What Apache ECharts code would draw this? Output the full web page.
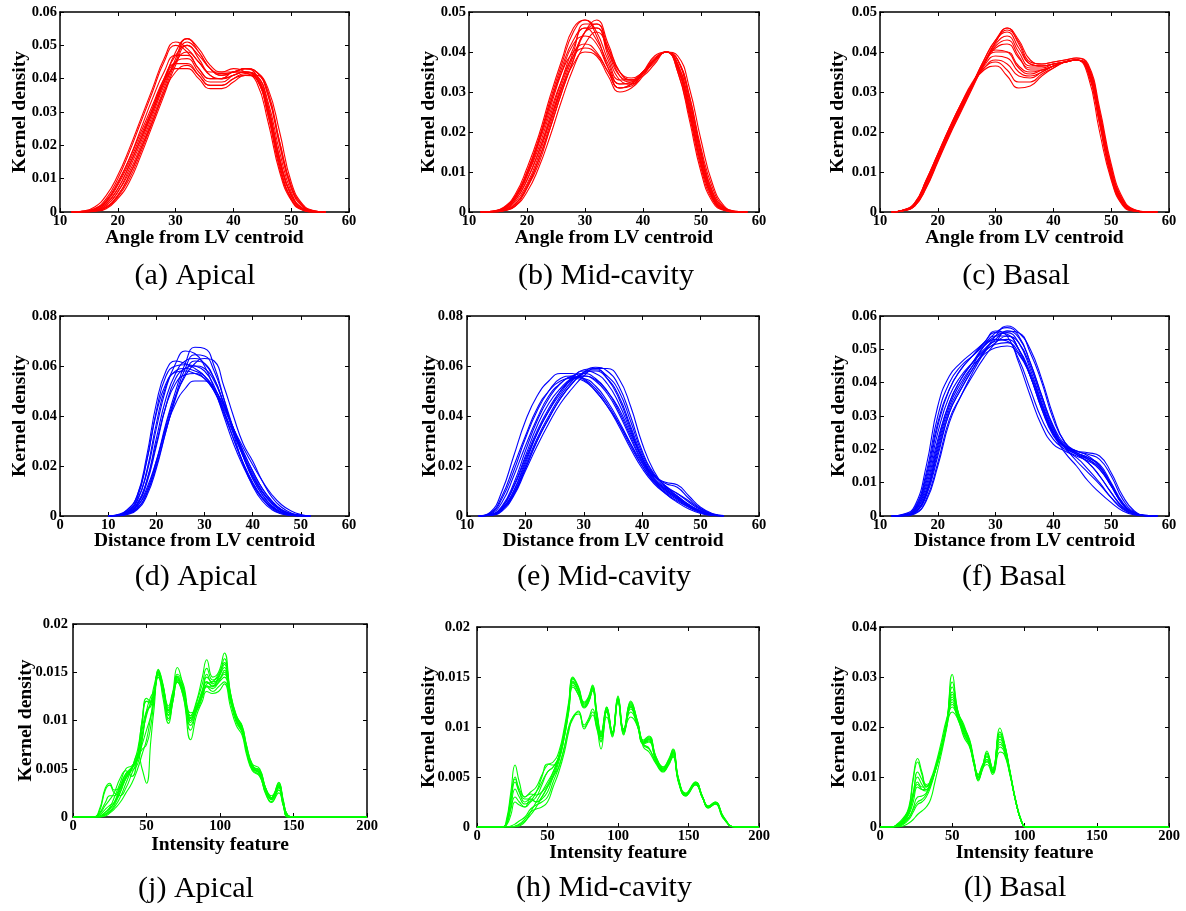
<!DOCTYPE html>
<html>
<head>
<meta charset="utf-8">
<script src="https://cdn.jsdelivr.net/npm/echarts@6/dist/echarts.min.js"></script>
<style>
  html, body { margin: 0; padding: 0; background: #ffffff; }
  #main { width: 1186px; height: 911px; }
</style>
</head>
<body>
<div id="main"></div>
<script>
// Kernel density curves per cardiac slice level. Each panel has one x grid
// (feature value) and a list of curves sampled on it; densities are in units of 1e-3.

// ---- Angle from LV centroid ----
const angleApicalX = [12,14,16,18,20,22,24,26,28,30,32,34,36,38,40,42,44,46,48,50,52,54,56];
const angleApicalY = [
  [0,0.3,1.5,5,11,19,28,37,46,51,49,45,42,42,43,42,39,27,12,3.5,0.5,0,0],
  [0,0.2,1,4,10,18,27,36,45,50,48,43,40,40,42,42,40,29,13,4,0.7,0,0],
  [0,0.1,0.8,3,8,15,23,31,39,43,43,40,37,37,39,41,40,31,16,5,1,0.1,0],
  [0,0.1,0.7,2.5,7,14,22,30,39,45,46,42,39,39,41,42,40,30,15,5,1,0,0],
  [0,0,0.5,2,6,13,21,30,39,48,52,48,43,41,42,43,41,31,16,5,1,0,0],
  [0,0,0.3,1.5,5,11,19,28,37,46,52,49,44,42,42,43,42,35,20,7,1.5,0.2,0],
  [0,0,0.4,2,6,12,20,29,38,45,48,45,41,40,41,42,41,33,18,6,1,0.1,0],
  [0,0,0.2,1,4,9,17,26,35,44,50,47,43,41,42,43,42,37,24,9,2.3,0.4,0],
  [0,0,0.3,1.5,5,11,19,27,36,42,44,41,38,38,40,41,41,35,21,8,2,0.3,0],
  [0,0.2,1,3.5,9,16,25,34,42,47,47,43,40,40,42,42,40.5,30,14,4,0.7,0,0],
  [0,0.1,0.6,2.5,7,14,22,31,40,47,50,46,41,40,41,42,41,32,16,5,1,0.1,0],
  [0,0.2,0.9,3.2,8.5,16,24,32,40,44.5,44.5,41,38,38,40,41.5,40,29,14,4,0.7,0,0],
  [0,0,0.3,1.3,4.5,10,18,27,36,45,51,48,43,41.5,42,43,42,36,21,7.5,1.8,0.3,0]
];

const angleMidX = [12,14,16,18,20,22,24,26,28,30,32,34,36,38,40,42,44,46,48,50,52,54,56,58];
const angleMidY = [
  [0,0.2,1,4,10,18,28,37,45,48,44,36,31,32,35,39,40,35,24,11,3,0.5,0,0],
  [0,0,0.3,1.5,6,13,21,30,38,45,48,42,35,33,35,38,40,37,27,14,4,0.8,0.1,0],
  [0,0.1,0.7,3,8,15,23,31,37,40,39,34,30,31,34,38,40,36,25,12,3.5,0.6,0,0],
  [0,0.1,0.8,3.5,9,17,26,35,42,44,42,36,32,32,35,38,40,36,25,12,3.5,0.5,0,0],
  [0,0,0.5,2.5,7,14,23,32,40,47,47,40,34,33,35,38,40,38,29,15,5,1,0.1,0],
  [0,0,0.4,2,6,12,21,30,38,45,46,40,35,33.5,35,38,40,39,31,18,7,1.5,0.2,0],
  [0,0.2,1,4,10,18,27,35,40,42,40,35,31,32,35,38,40,36,26,13,4,0.6,0,0],
  [0,0.2,1.2,4.5,11,19,29,38,46,48,45,38,33,33,35,38,40,35,23,10,2.5,0.4,0,0],
  [0,0,0.3,1.5,5,11,19,28,36,42,45,41,35,33,34,37,40,38,29,16,6,1.2,0.2,0],
  [0,0.1,0.6,3,8,15,24,33,41,46,46,39,33,32,35,38,40,37,27,14,4.5,0.8,0.1,0],
  [0,0.1,0.9,3.8,9.5,17.5,27,36,43,46,43,37,32,32.5,35,38.5,40,36,25,12,3.3,0.5,0,0],
  [0,0,0.4,2,6.5,13,22,31,39,45,47,41,34,32.5,34.5,37.5,40,38,28,15,5,1,0.1,0],
  [0,0.15,0.9,3.5,9,16,25,33,39,41,39.5,35,31,31.5,34.5,38,40,36.5,26,12.5,3.8,0.6,0,0]
];

const angleBasalX = [12,14,16,18,20,22,24,26,28,30,32,34,36,38,40,42,44,46,48,50,52,54,56,58];
const angleBasalY = [
  [0,0.4,2,7.5,14,20,26,32,38,43,46,42,37,36.5,37,37.5,38,35,22,9,2,0.3,0,0],
  [0,0.5,2.3,8,14.5,21,27,32,35.5,36.5,34,31,31.5,34,36,37.5,38,35,23,10,2.5,0.4,0,0],
  [0,0.4,2,7.5,14,20.5,26.5,32,36,38,37,34,33.5,35,36.5,37.5,38,35.5,23,9.5,2.2,0.3,0,0],
  [0,0.35,1.8,7,13.5,20,26,32,37,40,40,36.5,35,35.5,36.5,37.5,38,36,24,10,2.5,0.4,0,0],
  [0,0.35,1.8,7,13.5,20,26,32,37.5,41,42,38.5,36,36,37,37.5,38,35,22,8.5,1.8,0.2,0,0],
  [0,0.3,1.6,6.5,13,19.5,25.5,31.5,37,42,44,40,36.5,36.5,37,37.5,38,36.5,25,11,3,0.5,0,0],
  [0,0.3,1.5,6,12.5,19,25,31,37,42.5,46,43,38,37,37.5,38,38.5,37,26,12,3.5,0.6,0.1,0],
  [0,0.45,2.2,8,14.5,21,27,32.5,36,37.5,35.5,32.5,32.5,34.5,36,37.5,38,35,22.5,9.5,2.2,0.3,0,0],
  [0,0.4,2,7.5,14,20,26,32,38,43,45,41,37,36.5,37,37.5,38,34,20,8,1.6,0.2,0,0],
  [0,0.4,2,7.5,14,20.5,26.5,32,37,40.5,40,36,34.5,35.5,36.5,37.5,38,36,24,10.5,2.6,0.4,0,0],
  [0,0.4,2,7.5,14,20.5,26.5,32,37,41.5,43,39,35.5,35.5,36.5,37.5,38,35.5,23,9.5,2.2,0.3,0,0],
  [0,0.45,2.1,7.8,14.3,20.8,26.8,32,36.5,39,38.5,35,34,35,36.5,37.5,38,36,24,10,2.4,0.4,0,0],
  [0,0.3,1.5,6.2,12.8,19.3,25.3,31.3,37,42.5,45.5,42.5,37.5,37,37.5,38,38.5,36.5,25,11,3,0.5,0,0]
];

// ---- Distance from LV centroid ----
const distApicalX = [10,12,14,16,18,20,22,24,26,28,30,32,34,36,38,40,42,44,46,48,50,52];
const distApicalY = [
  [0,0.3,2,7,22,42,56,60,60.5,60,58,52,42,31,21,13,7,3,1,0.3,0,0],
  [0,0.2,1,4,10,22,37,50,61,67.5,67,60,47,33,21,12,6,2.5,0.8,0.2,0,0],
  [0,0.2,1.5,6,17,35,51,61,66,65,60,51,40,29,20,12.5,7,3.5,1.5,0.5,0.1,0],
  [0,0.2,1,3.5,11,22,35,45,51,54,54,51,44,35,26,18,11,6,2.5,1,0.3,0],
  [0,0.1,0.8,3,9,21,36,48,56,61,63,62,52,40,29,22,14,7.5,3.5,1.2,0.3,0],
  [0.1,0.6,2.5,8,22,41,53,57.5,58,57,55,50,42,33,24,16,9.5,5,2,0.7,0.2,0],
  [0,0.1,0.6,2.5,8,19,34,48,59,64.5,64,58,47,35,24,15,8.5,4,1.5,0.4,0,0],
  [0,0.3,1.5,5,14,29,44,53,56.5,57,55,50,43,35,27.5,20.5,14,8.5,4.5,2,0.6,0.1],
  [0,0.2,1.2,4.5,13,28,44,55,59,60,59,54,45,35,25,16,9.5,5,2,0.6,0.1,0],
  [0,0.4,2.5,8,24,45,58,62,61,59,56,50,41,31,21.5,13.5,7.5,3.5,1.3,0.4,0,0],
  [0,0.2,1.2,4.5,14,31,47,57,62,63,61,55,45,34,24,15,8.5,4,1.5,0.4,0.1,0],
  [0,0.3,1.8,6,18,37,52,58,59,58,56,51,44,35,26,18,11,6,2.5,0.8,0.2,0],
  [0,0.1,0.8,3,9,20,34,47,57,62,61,55,45,35,25,17,10,5.5,2.5,0.8,0.2,0]
];

const distMidX = [12,14,16,18,20,22,24,26,28,30,32,34,36,38,40,42,44,46,48,50,52,54];
const distMidY = [
  [0,1,7,18,31,42,50,55,56,54.5,50,44,36,27,19,13,9,6,3.5,1.5,0.4,0],
  [0,0.3,2.5,9,19,30,39,47,53,57.5,59.5,58,52,40,26,17,12,8,4.5,2,0.5,0.1],
  [0,0.4,3,10,21,33,42,49,55,58,57,53,45,34,23,16,13.5,12.5,8,3.5,1,0.2],
  [0,1.5,10,24,38,48,54,57,57,55,51,45,37,28,20,13.5,9.5,6.5,3.5,1.3,0.3,0],
  [0,0.2,2,8,18,28,37,45,51,56,59,59,55,44,29,18,11.5,7.5,4,1.7,0.5,0.1],
  [0,0.6,4,13,26,38,47,53,56,57,55,50,42,32,22,15,11,8,4.5,2,0.5,0.1],
  [0,0.3,2.5,8.5,19,30,39,47,53,57,58,55,48,36,24,16.5,13,11.5,7,3,0.8,0.1],
  [0,1.2,8,20,32,43,50,54,55,54,50,44,37,29,21,14,9,5.5,2.8,1,0.2,0],
  [0,0.4,3,10,22,33,42,50,55.5,58.5,59,55,47,35,23,15,10.5,7,4,1.8,0.5,0.1],
  [0,0.5,3.5,12,24,36,45,51,55,56,54,49,41,31,21.5,14.5,10.5,7.5,4.5,2,0.5,0.1],
  [0,0.8,5.5,16,28,39,48,53,55.5,55,52,46,38,29,20,14,10,7,4,1.5,0.4,0],
  [0,0.3,2.5,9,20,31,40,48,54,57.5,58.5,56,50,38,25,16.5,12,9,5.5,2.5,0.6,0.1],
  [0,0.5,3.5,11.5,23,34,43,50,54.5,56,54.5,50,43,33,23,15.5,11.5,9,6,2.8,0.7,0.1]
];

const distBasalX = [12,14,16,18,20,22,24,26,28,30,32,34,36,38,40,42,44,46,48,50,52,54,56,58];
const distBasalY = [
  [0,0.5,3,15,33,42,46,49,52,55.5,54,46,36,27,21.5,19.5,17.5,14,10,5.5,2,0.5,0.1,0],
  [0,0,0.8,4.5,15,28,36,43,49,54,57,55,50,41,30,22,19.5,18.5,17,12,5,1.2,0.2,0],
  [0,0.1,1.2,7,21,33,40,45,48.5,50.5,51,48.5,42,33,25,21,19.5,18,15,9,3.5,0.8,0.1,0],
  [0,0.2,2,11,27,38,44,48,52,55,54.5,50,42,32,24.5,20.5,16.5,13,9.5,5.5,2.2,0.5,0,0],
  [0,0,0.6,5,16,29,36,42,47.5,52,55.5,55,49,40,29,22,19,17,14,9,3.5,0.8,0.1,0],
  [0,0.4,2.5,13,30,40,45,48,51,53,52.5,47,38,29,23,20,18,16.5,14,9,3.5,0.8,0.1,0],
  [0,0.1,1,6,18,31,38,44,49,52,54,52,45,35,26,21,18.5,16,12,7,2.8,0.6,0.1,0],
  [0,0.2,1.5,8,22,34,41,46,51,54,55,52,44,34,25.5,21,19.5,19,18,13,6,1.5,0.2,0],
  [0,0.2,1.8,10,25,36,42,46,49.5,51.5,52,49,42,32.5,24.5,19,15,10.5,7,4,1.5,0.3,0,0],
  [0,0.1,1.2,7,20,32,39,45,51,55,56.5,54,46,36,27,21.5,19,17.5,15.5,10,4,1,0.1,0],
  [0,0.3,2.2,12,28,38,44,48,51.5,54,54,50,42,32,24,20.5,18.5,16,12,7,2.5,0.6,0.1,0],
  [0,0.1,1,6.5,19,31,38,44,49.5,53,55.5,53.5,46,36,26.5,21,19,17.5,15,9.5,3.8,0.9,0.1,0],
  [0,0.2,1.6,9,23,34,41,46,50,52.5,53,50,43,33.5,25,20.5,18.5,17,14.5,9.5,3.5,0.8,0.1,0]
];

// ---- Intensity feature ----
const intApicalX = [0,14,18,22,25,28,32,36,40,44,47,50,53,55,58,61,65,68,71,75,80,84,88,91,95,99,103,107,111,115,118,122,127,131,135,140,143,146,150,200];
const intApicalY = [
  [0,0,0.8,3,3.5,2.8,3,4,5,7,10,12.3,12,12.5,15,13.5,11,12.5,14.5,13,10,11.5,13,14,13.5,14,15,12.5,10,9,7,5,4.6,3,2,3.2,1.5,0,0,0],
  [0,0,0.6,2.8,3.3,2.5,2.2,3,4.5,6,8,11,12.5,13,15.2,13.8,11.5,13,14,13,10.5,11.5,12.5,13.5,13,13.5,14,12,10,8.8,7,5.2,4.8,3,2.2,3.3,1.6,0.2,0,0],
  [0,0,0,0.2,0.5,1,2,3.5,5,6.5,5,3.5,8,11,14.5,13,10,12,14,12.5,9,11,12.5,13.5,13.5,14.5,15.5,12,10.5,9.2,7.2,5,4.5,2.8,2,3,1.4,0.1,0,0],
  [0,0,0,0.3,0.8,1.5,3,4.5,5.2,6.5,9,11,11.5,12.5,15,13.2,10.5,13,15.5,13.5,10.5,12,14.5,16.3,14.5,15,17,13,10.5,9.5,7.5,5.5,5,3,1.8,3.6,1.8,0.2,0,0],
  [0,0,0.2,0.8,1.2,1.5,2.5,4,5,6,8.5,10.5,12,13.5,15,12.5,9.7,12,14,12.5,8,10.5,12,13,12.8,13,13.8,11.5,9.5,8.5,6.5,4.8,4.2,2.5,1.5,2.5,1.2,0,0,0],
  [0,0,0,0.5,1,2,3.5,5,5.3,6,7.5,9,10.5,12,14.8,13.6,11.3,12.8,14.2,13.2,10.2,11.2,12.8,13.8,14,14.8,16,12.8,10.2,9,7,5.3,4.7,2.7,2,3.4,1.5,0.1,0,0],
  [0,0,0.3,1.2,1.8,2.5,4,4.8,4.2,6.5,10,12,11.8,12.3,15.3,13.9,11,12.3,14.8,13.8,10.8,11,12.5,14.5,14,14.2,15.2,12.5,10.3,9.4,7.4,5.4,4.4,2.6,1.8,2.8,1.3,0,0,0],
  [0,0,0,0.1,0.4,0.8,1.5,2.5,3.5,5,6.5,8,10.5,12.5,14.5,13.5,10.8,12.5,14.2,12.8,9.5,11,13.2,14,13.6,14.2,14.8,12.2,9.8,8.8,6.8,4.9,4.3,2.4,1.6,2.8,1.2,0,0,0],
  [0,0,0.4,1.5,2.2,2.2,3.2,4.5,4.8,5.5,8,10.8,11.8,13,14.9,13.4,10.6,12.4,14.4,13,9.8,11.2,12.9,14.8,13.8,14.4,15.8,12.6,10.4,9.1,7.1,5.1,4.6,2.8,1.9,3.1,1.4,0.1,0,0],
  [0,0,0,0.3,0.6,1.2,2.5,4.2,5,6.2,7,7.5,9.5,12,14.7,13.3,10.2,12.2,14.6,13.4,10,11.8,13.8,15.4,14.2,14.6,16.4,12.9,10.6,9.3,7.3,5.2,4.9,3,2,3.5,1.7,0.2,0,0],
  [0,0,0.1,0.5,0.9,1.4,2.8,4.3,5.1,6.3,9.5,12,12,12.8,15.1,13.7,11.1,12.6,14.3,13.1,10.3,11.3,12.6,13.6,13.3,13.9,14.5,12.3,10.1,9.1,7,5.1,4.6,2.9,2,3.1,1.4,0.1,0,0]
];

const intMidX = [0,18,21,24,27,30,34,38,42,46,50,54,58,62,65,68,72,76,79,82,85,88,92,96,100,104,109,114,118,122,127,132,136,139,143,148,155,160,164,169,175,183,200];
const intMidY = [
  [0,0,0.8,3.5,6.2,4.5,3,3.5,4,5.2,6.2,6.5,7.5,10,12.5,15,14,12.5,13,14.2,11.5,9.5,12,9.5,13,9.8,12.5,10.5,8.6,9,7,6,6.7,7.6,4.8,3.3,4.4,3,2,2.4,0.9,0,0],
  [0,0,0.5,3,5,3.5,2.5,3,3.5,4.5,5.5,6,7,9.5,12,14.8,13.8,12.4,12.8,14,11.3,9.2,11.8,9.3,12.8,9.5,12.2,10.2,8.4,8.8,6.8,5.8,6.5,7.4,4.6,3.2,4.3,2.9,2,2.3,0.9,0,0],
  [0,0,0,0,0.1,0.3,0.8,1.5,1.8,2,2.5,4,5.5,7.5,9.5,11,11.5,9.8,10.5,11.2,9.8,8.5,11,9.3,12.5,9.6,11,10,8,7.5,6.3,5.5,6.3,7,4.4,3.1,4.2,2.9,1.9,2.3,0.8,0,0],
  [0,0,0.3,1.8,3,2.5,2,2.8,2.5,2.8,3.5,5,6,8,10,11,11.3,10,10.6,11.5,10,8.8,11.5,9.4,12.8,9.7,11.5,10.1,8.2,7.8,6.5,5.6,6.4,7.2,4.5,3.2,4.3,3,2,2.4,0.9,0,0],
  [0,0,0,0,0,0.1,0.5,1.5,2.5,3.5,4.5,5.5,7,9.5,12,14.5,13.5,12,12.5,13.8,10.5,7.8,11.5,9,12.5,9.2,12,10,8.3,8.5,6.6,5.7,6.4,7.3,4.6,3.2,4.3,2.9,2,2.4,0.9,0,0],
  [0,0,0.4,2.5,4.5,3.5,2.8,2.8,2.5,3,4,5.2,6.8,9.2,11.8,14.6,13.6,12.2,12.7,13.9,11,9,11.9,9.4,12.9,9.6,12.4,10.4,8.5,8.9,6.9,5.9,6.6,7.7,4.7,3.3,4.5,3,2.1,2.5,1,0,0],
  [0,0,0,0.1,0.3,0.6,1,1.8,2.2,2.5,3,4.5,6,8,9.8,10.8,11.6,10.2,10.8,11.8,10.2,9,11.7,9.5,12.6,9.8,11.8,10.3,8.3,7.9,6.4,5.6,6.2,7.1,4.5,3.1,4.2,2.9,1.9,2.3,0.8,0,0],
  [0,0,0.3,2,3.8,3,2.3,2.6,3.5,5,6.3,6.2,6.8,9,11.5,14.2,13.2,12,12.5,13.6,11,9.3,11.6,9.2,12.6,9.4,12,10.1,8.4,8.7,6.7,5.8,6.5,7.5,4.7,3.3,4.4,3,2,2.4,0.9,0,0],
  [0,0,0.2,1.2,2.5,2.2,2,2.5,3,4.2,5.5,6,7,9.3,11.9,14.4,13.5,12.1,12.6,13.9,11.1,9.1,11.8,9.3,12.7,9.5,12.3,10.3,8.5,8.8,6.8,5.8,6.5,7.5,4.6,3.2,4.4,3,2,2.4,0.9,0,0],
  [0,0,0,0,0.05,0.2,0.6,1.2,2,3,4,5,6.5,9,11.5,14,13.2,11.9,12.4,13.7,10.8,8.6,11.6,9.1,12.6,9.3,12.1,10.1,8.4,8.6,6.7,5.8,6.4,7.4,4.6,3.2,4.3,2.9,2,2.4,0.9,0,0],
  [0,0,0.6,2.8,4.8,3.8,3,3.3,3.2,3.5,4.2,5.5,7,9.6,12.2,14.9,13.9,12.3,12.9,14.1,11.4,9.4,12,9.5,13.1,9.7,12.6,10.5,8.7,9.1,7,6,6.8,7.8,4.8,3.4,4.5,3,2.1,2.5,1,0,0]
];

const intBasalX = [0,8,12,16,20,23,26,29,32,35,38,42,46,50,54,58,62,65,68,71,74,78,83,86,90,94,98,101,105,200];
const intBasalY = [
  [0,0,0.5,1.5,4,10,13.7,11,8.5,9,11,15,20,30.5,23,20.5,17,13,9.5,12,15.2,11.5,19.8,17,11,5,1,0,0,0],
  [0,0,0.4,1.2,3.5,9.5,13,10.5,8.2,9,11.5,15.5,20.5,28,22.5,20,17.5,13.5,10,12.3,14.8,11.8,19,16.5,10.8,5,1,0,0,0],
  [0,0,0,0.2,0.8,1.5,2.5,3.2,4,5.5,9,14,19.5,25,22,19.5,17,13,10.5,12.5,13.5,11,17,15.5,10.5,5,1,0,0,0],
  [0,0,0.3,1,2.5,5,8,7.5,7.5,9,11.5,15.5,20.5,26,22.5,19,16.5,12.5,9.5,11.5,13.5,10.8,17.5,16,10.8,5.2,1.1,0,0,0],
  [0,0,0.2,0.8,2,3.5,5,5.5,6.5,8.5,11,15,20,23,21.5,18,16,12.5,10,11.8,12.5,10.5,15,14.5,10.3,5,1,0,0,0],
  [0,0,0.5,1.5,3.5,7,10,8.5,7.5,8.5,11,15,20,27,23,20,17.2,13,9.2,11.8,14.5,11.2,18.5,16.8,11.2,5.3,1.2,0,0,0],
  [0,0,0.1,0.5,1.5,3,4.5,5,6,8,11,15.5,21,25.5,22,19.5,16.8,13.2,10.5,12.2,13,11,16.5,15.5,10.6,5,1,0,0,0],
  [0,0,0.4,1.2,3,6,9,8,8,9.5,12,16.5,21.5,24.5,21.5,18.5,16.2,12.8,10,12,14,11.3,18,16,10.8,5.1,1,0,0,0],
  [0,0,0.3,1,2.8,6.5,11,9.5,8,9,11.5,15.5,20.5,29,23,20,17,13.2,9.8,12,14.8,11.5,19,16.7,11,5.1,1,0,0,0],
  [0,0,0.2,0.7,1.8,3.8,6,6.2,6.8,8.8,11.2,15.2,20.5,24,21.8,18.8,16.4,12.6,10.2,11.9,13.2,10.9,16,15,10.5,5,1,0,0,0],
  [0,0,0.6,1.8,3.5,6.5,8.5,7.5,7.2,8.6,11.2,15.3,20.3,26.5,22.8,19.5,17,13,9.8,12,14.2,11.4,18.2,16.3,10.9,5.1,1.1,0,0,0]
];

// Panel definitions: data, axis ranges and labels
const panels = [
  { x: angleApicalX, y: angleApicalY, color: '#ff0000', xMin: 10, xMax: 60, xStep: 10, yMax: 0.06, yStep: 0.01, xName: 'Angle from LV centroid', caption: '(a) Apical' },
  { x: angleMidX,    y: angleMidY,    color: '#ff0000', xMin: 10, xMax: 60, xStep: 10, yMax: 0.05, yStep: 0.01, xName: 'Angle from LV centroid', caption: '(b) Mid-cavity' },
  { x: angleBasalX,  y: angleBasalY,  color: '#ff0000', xMin: 10, xMax: 60, xStep: 10, yMax: 0.05, yStep: 0.01, xName: 'Angle from LV centroid', caption: '(c) Basal' },
  { x: distApicalX,  y: distApicalY,  color: '#0000ff', xMin: 0,  xMax: 60, xStep: 10, yMax: 0.08, yStep: 0.02, xName: 'Distance from LV centroid', caption: '(d) Apical' },
  { x: distMidX,     y: distMidY,     color: '#0000ff', xMin: 10, xMax: 60, xStep: 10, yMax: 0.08, yStep: 0.02, xName: 'Distance from LV centroid', caption: '(e) Mid-cavity' },
  { x: distBasalX,   y: distBasalY,   color: '#0000ff', xMin: 10, xMax: 60, xStep: 10, yMax: 0.06, yStep: 0.01, xName: 'Distance from LV centroid', caption: '(f) Basal' },
  { x: intApicalX,   y: intApicalY,   color: '#00ff00', xMin: 0,  xMax: 200, xStep: 50, yMax: 0.02, yStep: 0.005, xName: 'Intensity feature', caption: '(j) Apical' },
  { x: intMidX,      y: intMidY,      color: '#00ff00', xMin: 0,  xMax: 200, xStep: 50, yMax: 0.02, yStep: 0.005, xName: 'Intensity feature', caption: '(h) Mid-cavity' },
  { x: intBasalX,    y: intBasalY,    color: '#00ff00', xMin: 0,  xMax: 200, xStep: 50, yMax: 0.04, yStep: 0.01, xName: 'Intensity feature', caption: '(l) Basal' }
];

// Frame geometry of each panel (pixels); name gaps are measured from the axis line
const frames = [
  { left: 60,  top: 12,  width: 289, height: 200, xGap: 16, yGap: 30, yMargin: 3, capX: 195,  capY: 276 },
  { left: 469, top: 12,  width: 290, height: 200, xGap: 16, yGap: 30, yMargin: 3, capX: 606,  capY: 276 },
  { left: 880, top: 12,  width: 289, height: 200, xGap: 16, yGap: 32, yMargin: 3, capX: 1016, capY: 276 },
  { left: 60,  top: 316, width: 289, height: 200, xGap: 15, yGap: 30, yMargin: 3, capX: 196,  capY: 577 },
  { left: 467, top: 316, width: 292, height: 200, xGap: 15, yGap: 27, yMargin: 4, capX: 604,  capY: 577 },
  { left: 880, top: 316, width: 289, height: 200, xGap: 15, yGap: 31, yMargin: 3, capX: 1014, capY: 577 },
  { left: 73,  top: 624, width: 294, height: 193, xGap: 18, yGap: 37, yMargin: 5, capX: 196,  capY: 889 },
  { left: 477, top: 627, width: 282, height: 200, xGap: 16, yGap: 38, yMargin: 7, capX: 604,  capY: 888 },
  { left: 880, top: 627, width: 289, height: 200, xGap: 16, yGap: 31, yMargin: 3, capX: 1015, capY: 888 }
];

const SERIF = '"Liberation Serif", "Times New Roman", serif';
const BLACK = '#000000';

const grid = [], xAxis = [], yAxis = [], series = [], graphic = [];

panels.forEach(function (p, i) {
  const f = frames[i];
  grid.push({ left: f.left, top: f.top, width: f.width, height: f.height, containLabel: false });

  const line = { show: true, onZero: false, lineStyle: { color: BLACK, width: 1.5 } };
  const tick = { show: true, inside: true, length: 4, lineStyle: { color: BLACK, width: 1 } };
  const tickLabel = { color: BLACK, fontFamily: SERIF, fontWeight: 'bold', fontSize: 14.5 };
  const nameStyle = { color: BLACK, fontFamily: SERIF, fontWeight: 'bold', fontSize: 19.5 };

  // bottom and top x axes (box frame with inward ticks)
  xAxis.push({
    type: 'value', gridIndex: i, position: 'bottom',
    min: p.xMin, max: p.xMax, interval: p.xStep,
    axisLine: line, axisTick: tick, splitLine: { show: false },
    axisLabel: Object.assign({ margin: 2 }, tickLabel),
    name: p.xName, nameLocation: 'middle', nameGap: f.xGap, nameMoveOverlap: false,
    nameTextStyle: nameStyle
  });
  xAxis.push({
    type: 'value', gridIndex: i, position: 'top',
    min: p.xMin, max: p.xMax, interval: p.xStep,
    axisLine: line, axisTick: tick, splitLine: { show: false },
    axisLabel: { show: false }
  });

  // left and right y axes
  yAxis.push({
    type: 'value', gridIndex: i, position: 'left',
    min: 0, max: p.yMax, interval: p.yStep,
    axisLine: line, axisTick: tick, splitLine: { show: false },
    axisLabel: Object.assign({ margin: f.yMargin }, tickLabel),
    name: 'Kernel density', nameLocation: 'middle', nameGap: f.yGap, nameMoveOverlap: false,
    nameTextStyle: nameStyle
  });
  yAxis.push({
    type: 'value', gridIndex: i, position: 'right',
    min: 0, max: p.yMax, interval: p.yStep,
    axisLine: line, axisTick: tick, splitLine: { show: false },
    axisLabel: { show: false }
  });

  p.y.forEach(function (curve) {
    series.push({
      type: 'line',
      xAxisIndex: 2 * i,
      yAxisIndex: 2 * i,
      data: p.x.map(function (xv, k) { return [xv, curve[k] / 1000]; }),
      smooth: 0.5,
      symbol: 'none',
      showSymbol: false,
      silent: true,
      lineStyle: { color: p.color, width: 1.1 },
      z: 3
    });
  });

  graphic.push({
    type: 'text',
    x: f.capX,
    y: f.capY,
    style: {
      text: p.caption,
      font: '30px ' + SERIF,
      fill: BLACK,
      textAlign: 'center',
      textVerticalAlign: 'middle'
    }
  });
});

const chart = echarts.init(document.getElementById('main'), null, { renderer: 'canvas' });
chart.setOption({
  backgroundColor: '#ffffff',
  animation: false,
  grid: grid,
  xAxis: xAxis,
  yAxis: yAxis,
  series: series,
  graphic: graphic
});
</script>
</body>
</html>
